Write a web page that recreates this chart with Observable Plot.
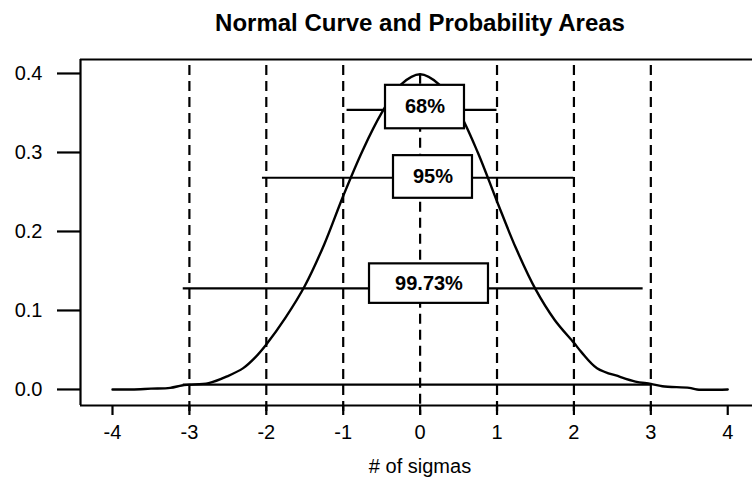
<!DOCTYPE html>
<html>
<head>
<meta charset="utf-8">
<script src="https://cdn.jsdelivr.net/npm/d3@7"></script>
<script src="https://cdn.jsdelivr.net/npm/@observablehq/plot@0.6"></script>
<style>
  html, body { margin: 0; padding: 0; background: white; }
  #wrap { position: relative; width: 752px; height: 480px; font-family: "Liberation Sans", Arial, sans-serif; }
  #title { position: absolute; left: 0; top: 9px; width: 752px; padding-left: 88px; box-sizing: border-box;
           text-align: center; font-weight: bold; font-size: 24px; line-height: 28px; color: black; }
  #xlabel { position: absolute; left: 0; top: 455px; width: 752px; padding-left: 88px; box-sizing: border-box;
            text-align: center; font-size: 20px; line-height: 22px; color: black; }
  #chart { position: absolute; left: 0; top: 0; }
</style>
</head>
<body>
<div id="wrap">
  <div id="chart"></div>
  <div id="title">Normal Curve and Probability Areas</div>
  <div id="xlabel"># of sigmas</div>
</div>
<script>
// Normal curve
const curveX = [-4.0, -3.75, -3.5, -3.25, -3.1, -3.0, -2.75, -2.5, -2.3, -2.15, -2.0, -1.75, -1.5, -1.25, -1.0, -0.75, -0.5, -0.25, 0.0,
                0.25, 0.5, 0.75, 1.0, 1.25, 1.5, 1.75, 2.0, 2.1, 2.3, 2.6, 2.8, 3.0, 3.15, 3.5, 3.6, 4.0];
const curveY = [0.000, 0.000, 0.001, 0.002, 0.005, 0.006, 0.008, 0.017, 0.027, 0.040, 0.057, 0.091, 0.131, 0.183, 0.245, 0.302, 0.350, 0.386, 0.399,
                0.386, 0.352, 0.300, 0.238, 0.178, 0.127, 0.088, 0.059, 0.047, 0.027, 0.016, 0.010, 0.007, 0.004, 0.002, 0.000, 0.000];

// Sigma marker lines (dashed)
const sigmaX = [-3, -2, -1, 0, 1, 2, 3];
const sigmaTop = [0.41, 0.41, 0.41, 0.399, 0.41, 0.41, 0.41];

// Probability intervals
const intervalLabels = ["68%", "95%", "99.73%"];
const intervalY = [0.354, 0.268, 0.128];
const intervalLo = [-0.95, -2.05, -3.08];
const intervalHi = [1.0, 2.0, 2.9];
// label boxes (data units)
const boxX1 = [-0.45, -0.346, -0.658];
const boxX2 = [0.577, 0.681, 0.889];
const boxY1 = [0.330, 0.242, 0.109];
const boxY2 = [0.385, 0.296, 0.159];

// baseline segment
const baseY = [0.006];
const baseLo = [-3.08];
const baseHi = [3.0];

// ticks
const xTicks = [-4, -3, -2, -1, 0, 1, 2, 3, 4];
const yTicks = [0.0, 0.1, 0.2, 0.3, 0.4];

const curve = curveX.map((x, i) => ({x, y: curveY[i]}));
const sigmas = sigmaX.map((x, i) => ({x, top: sigmaTop[i]}));
const intervals = intervalLabels.map((label, i) => ({
  label, y: intervalY[i], lo: intervalLo[i], hi: intervalHi[i],
  bx1: boxX1[i], bx2: boxX2[i], by1: boxY1[i], by2: boxY2[i]
}));
const base = baseY.map((y, i) => ({y, lo: baseLo[i], hi: baseHi[i]}));

const xDom = [-4.416, 4.322];
const yDom = [-0.0203, 0.4177];

const chart = Plot.plot({
  width: 752,
  height: 480,
  marginTop: 59,
  marginBottom: 75,
  marginLeft: 80,
  marginRight: 0,
  style: {fontFamily: "'Liberation Sans', Arial, sans-serif", fontSize: "20px", color: "black", background: "white"},
  x: {domain: xDom},
  y: {domain: yDom},
  marks: [
    Plot.ruleX(sigmas, {x: "x", y1: "top", y2: -0.033, stroke: "black", strokeWidth: 2.2, strokeDasharray: "10,6"}),
    Plot.line(curve, {x: "x", y: "y", stroke: "black", strokeWidth: 2.4, curve: "catmull-rom"}),
    Plot.ruleY(intervals, {y: "y", x1: "lo", x2: "hi", stroke: "black", strokeWidth: 2.2}),
    Plot.ruleY(base, {y: "y", x1: "lo", x2: "hi", stroke: "black", strokeWidth: 2.2}),
    Plot.rect(intervals, {x1: "bx1", x2: "bx2", y1: "by1", y2: "by2", fill: "white", stroke: "black", strokeWidth: 2.2}),
    Plot.text(intervals, {x: d => (d.bx1 + d.bx2) / 2, y: d => (d.by1 + d.by2) / 2, text: "label",
      fontWeight: "bold", fontSize: 20, fill: "black"}),
    Plot.ruleX([xDom[0]], {stroke: "black", strokeWidth: 2.2}),
    Plot.ruleY([yDom[0], yDom[1]], {stroke: "black", strokeWidth: 2.2}),
    Plot.axisY({ticks: yTicks, tickFormat: d => d.toFixed(1), tickSize: 23, tickPadding: 15,
      strokeWidth: 2.2, label: null}),
    Plot.axisX({ticks: xTicks, tickFormat: d => String(d), tickSize: 10, tickPadding: 9,
      strokeWidth: 2.2, label: null})
  ]
});
document.getElementById("chart").appendChild(chart);
</script>
</body>
</html>
